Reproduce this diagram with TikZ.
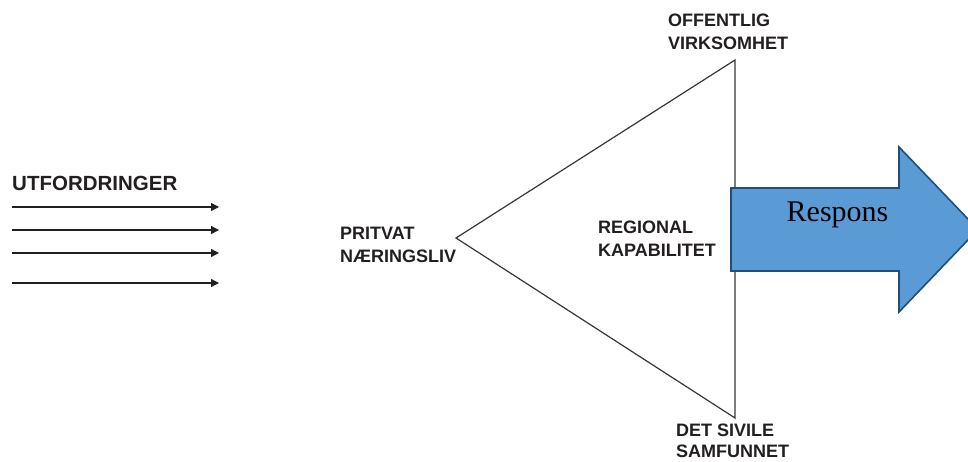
\documentclass[tikz,border=0pt]{standalone}
\usepackage{fontspec}
\setmainfont{Liberation Sans}
\newfontfamily\respfont{Liberation Serif}
\usetikzlibrary{arrows.meta}
\definecolor{respfill}{HTML}{5B9BD5}
\definecolor{respdraw}{HTML}{1F4E79}
\definecolor{ink}{HTML}{231F20}
\begin{document}
\begin{tikzpicture}[x=1pt,y=-1pt,
  lbl/.style={font=\fontsize{18}{23}\selectfont\bfseries, text=ink, align=left, inner sep=0pt, anchor=west},
  inarrow/.style={draw=ink, line width=1.2pt, -{Triangle[length=8pt,width=8pt]}},
  tri/.style={draw=ink!90, line width=1.2pt, line join=miter}]
\useasboundingbox (0,0) rectangle (968,462);
% challenge arrows
\node[lbl, font=\fontsize{20.5}{23}\selectfont\bfseries] (utf) at (12,183) {UTFORDRINGER};
\foreach \i/\y in {1/207,2/230,3/253,4/283}{
  \coordinate (s\i) at (12,\y);
  \coordinate (e\i) at (219,\y);
  \draw[inarrow] (s\i) -- (e\i);
}
% triangle
\coordinate (tl) at (456,238);
\coordinate (tt) at (735,60);
\coordinate (tb) at (735,418);
\draw[tri] (tl) -- (tt) -- (tb) -- cycle;
% labels
\node[lbl] (priv) at (340,245) {PRITVAT\\NÆRINGSLIV};
\node[lbl] (reg) at (598,239) {REGIONAL\\KAPABILITET};
\node[lbl] (off) at (668,32) {OFFENTLIG\\VIRKSOMHET};
\node[lbl, font=\fontsize{18}{21}\selectfont\bfseries] (det) at (676,441) {DET SIVILE\\SAMFUNNET};
% response arrow
\coordinate (r1) at (731,188);
\coordinate (r2) at (899,188);
\coordinate (r3) at (899,147);
\coordinate (r4) at (978,229.5);
\coordinate (r5) at (899,312);
\coordinate (r6) at (899,271);
\coordinate (r7) at (731,271);
\draw[fill=respfill, draw=respdraw, line width=1.6pt, line join=miter]
  (r1) -- (r2) -- (r3) -- (r4) -- (r5) -- (r6) -- (r7) -- cycle;
\node[font=\respfont\fontsize{30}{36}\selectfont, inner sep=0pt] (resp) at (837.5,215) {Respons};
\end{tikzpicture}
\end{document}
